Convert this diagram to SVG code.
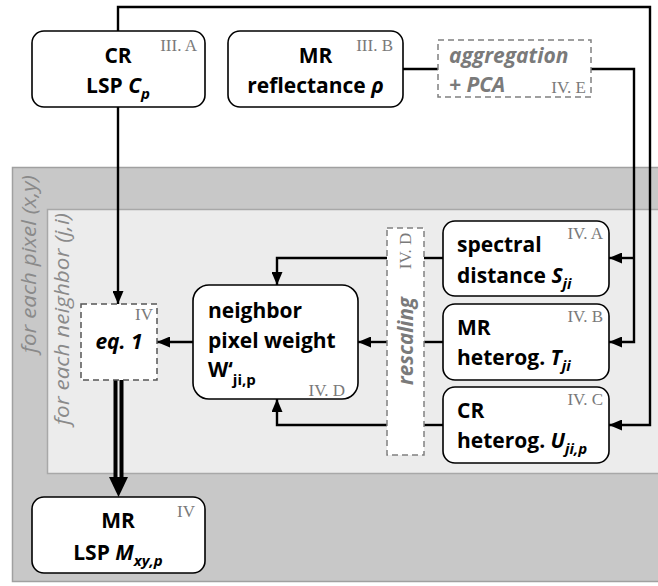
<svg xmlns="http://www.w3.org/2000/svg" width="658" height="586" viewBox="0 0 658 586">
  <defs>
    <style>
      .node { fill: #ffffff; stroke: #000000; stroke-width: 1.6; }
      .dash { stroke: #808080; stroke-width: 1.5; stroke-dasharray: 6 4; }
      .t { font-family: "Open Sans", "DejaVu Sans", sans-serif; font-weight: bold; font-size: 21px; fill: #000000; }
      .v { font-style: italic; }
      .sub { font-size: 15px; }
      .ref { font-family: "Liberation Serif", "DejaVu Serif", serif; font-size: 17px; fill: #7a7a7a; }
      .gray { fill: #7a7a7a; }
      .loop { font-family: "Open Sans", "DejaVu Sans", sans-serif; font-style: italic; font-size: 20px; fill: #8a8a8a; }
      .wire { fill: none; stroke: #000000; stroke-width: 2.4; }
    </style>
    <marker id="arr" viewBox="0 0 13 11" refX="13" refY="5.5" markerWidth="13" markerHeight="11" markerUnits="userSpaceOnUse" orient="auto">
      <path d="M0,0 L13,5.5 L0,11 z" fill="#000000"/>
    </marker>
  </defs>

  <rect width="658" height="586" fill="#ffffff"/>

  <!-- loop regions -->
  <g id="loop-pixel">
    <rect x="12.5" y="167.5" width="660" height="414" fill="#c8c8c8" stroke="#a0a0a0" stroke-width="1.5"/>
    <text class="loop" transform="translate(35.5,264) rotate(-90)" text-anchor="middle" textLength="178" lengthAdjust="spacingAndGlyphs">for each pixel (x,y)</text>
  </g>
  <g id="loop-neighbor">
    <rect x="47.5" y="209.5" width="620" height="264" fill="#ececec" stroke="#a8a8a8" stroke-width="1.5"/>
    <text class="loop" transform="translate(68.5,319) rotate(-90)" text-anchor="middle" textLength="212" lengthAdjust="spacingAndGlyphs">for each neighbor (j,i)</text>
  </g>

  <!-- connectors -->
  <g id="connectors">
    <path class="wire" d="M118,31 V7 H650 V425 H609" marker-end="url(#arr)"/>
    <path class="wire" d="M403,69 H438"/>
    <path class="wire" d="M591,69 H634 V342 H609" marker-end="url(#arr)"/>
    <path class="wire" d="M634,258 H609" marker-end="url(#arr)"/>
    <path class="wire" d="M118,107 V304" marker-end="url(#arr)"/>
    <path class="wire" d="M443,258 H424"/>
    <path class="wire" d="M387,258 H277 V285" marker-end="url(#arr)"/>
    <path class="wire" d="M443,342 H424"/>
    <path class="wire" d="M387,342 H358" marker-end="url(#arr)"/>
    <path class="wire" d="M443,425 H424"/>
    <path class="wire" d="M387,425 H277 V399" marker-end="url(#arr)"/>
    <path class="wire" d="M193,342 H157" marker-end="url(#arr)"/>
    <!-- double-line result arrow -->
    <path d="M118.5,380 V480" fill="none" stroke="#000000" stroke-width="10"/>
    <path d="M118.5,380 V478" fill="none" stroke="#e8e8e8" stroke-width="2"/>
    <path d="M109,477 L128,477 L118.5,497 z" fill="#000000"/>
  </g>

  <!-- nodes -->
  <g id="cr-lsp">
    <rect class="node" x="32" y="31" width="173" height="76" rx="12"/>
    <text class="t" x="118" y="63" text-anchor="middle">CR</text>
    <text class="t" x="118" y="93" text-anchor="middle">LSP <tspan class="v">C</tspan><tspan class="v sub" dy="6">p</tspan></text>
    <text class="ref" x="197" y="51" text-anchor="end">III. A</text>
  </g>

  <g id="mr-reflectance">
    <rect class="node" x="228" y="31" width="175" height="76" rx="12"/>
    <text class="t" x="315.5" y="63" text-anchor="middle">MR</text>
    <text class="t" x="315.5" y="93" text-anchor="middle">reflectance <tspan class="v">ρ</tspan></text>
    <text class="ref" x="393" y="51" text-anchor="end">III. B</text>
  </g>

  <g id="aggregation-pca">
    <rect class="dash" x="438" y="40" width="153" height="57" fill="#ffffff"/>
    <text class="t v gray" x="449" y="63">aggregation</text>
    <text class="t v gray" x="449" y="92">+ PCA</text>
    <text class="ref" x="586" y="93" text-anchor="end">IV. E</text>
  </g>

  <g id="spectral-distance">
    <rect class="node" x="443" y="221" width="166" height="75" rx="12"/>
    <text class="t" x="457" y="252">spectral</text>
    <text class="t" x="457" y="283">distance <tspan class="v">S</tspan><tspan class="v sub" dy="6">ji</tspan></text>
    <text class="ref" x="603" y="239" text-anchor="end">IV. A</text>
  </g>

  <g id="mr-heterogeneity">
    <rect class="node" x="443" y="304" width="166" height="76" rx="12"/>
    <text class="t" x="457" y="335">MR</text>
    <text class="t" x="457" y="365">heterog. <tspan class="v">T</tspan><tspan class="v sub" dy="6">ji</tspan></text>
    <text class="ref" x="603" y="322" text-anchor="end">IV. B</text>
  </g>

  <g id="cr-heterogeneity">
    <rect class="node" x="443" y="387" width="166" height="76" rx="12"/>
    <text class="t" x="457" y="418">CR</text>
    <text class="t" x="457" y="448">heterog. <tspan class="v">U</tspan><tspan class="v sub" dy="6">ji,p</tspan></text>
    <text class="ref" x="603" y="405" text-anchor="end">IV. C</text>
  </g>

  <g id="rescaling">
    <rect class="dash" x="387" y="228" width="37" height="227" fill="#ffffff"/>
    <text class="ref" transform="translate(411,251) rotate(-90)" text-anchor="middle">IV. D</text>
    <text class="t v gray" transform="translate(413,341) rotate(-90)" text-anchor="middle" textLength="88" lengthAdjust="spacingAndGlyphs">rescaling</text>
  </g>

  <g id="pixel-weight">
    <rect class="node" x="193" y="285" width="165" height="114" rx="16"/>
    <text class="t" x="208" y="318">neighbor</text>
    <text class="t" x="208" y="348">pixel weight</text>
    <text class="t" x="208" y="377">W‘<tspan class="sub" dy="8">ji,p</tspan></text>
    <text class="ref" x="345" y="396" text-anchor="end">IV. D</text>
  </g>

  <g id="eq1">
    <rect x="81" y="304" width="76" height="76" fill="#ffffff" stroke="#555555" stroke-width="1.5" stroke-dasharray="6 4"/>
    <text class="t v" x="119" y="349" text-anchor="middle">eq. 1</text>
    <text class="ref" x="153" y="320" text-anchor="end">IV</text>
  </g>

  <g id="mr-lsp">
    <rect class="node" x="32" y="497" width="173" height="76" rx="12"/>
    <text class="t" x="118" y="528" text-anchor="middle">MR</text>
    <text class="t" x="118" y="560" text-anchor="middle">LSP <tspan class="v">M</tspan><tspan class="v sub" dy="6">xy,p</tspan></text>
    <text class="ref" x="195" y="517" text-anchor="end">IV</text>
  </g>
</svg>
